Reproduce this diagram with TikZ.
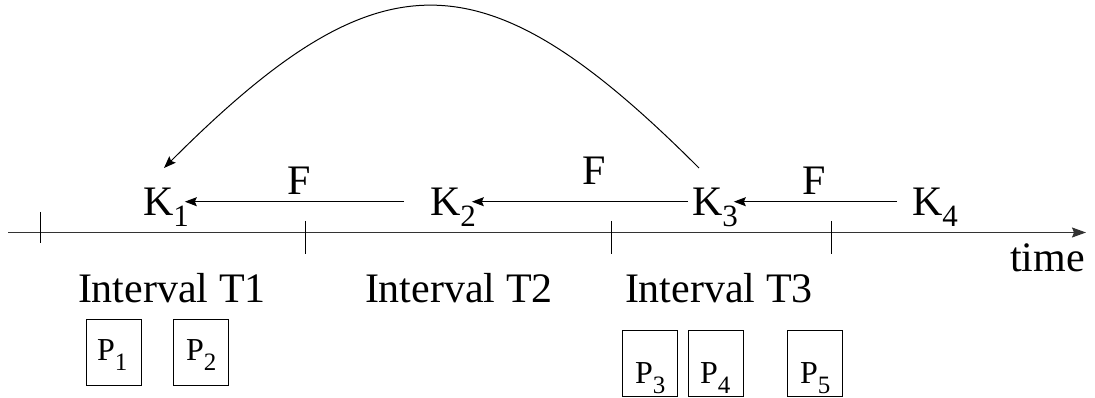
\documentclass[tikz,border=0pt]{standalone}
\usepackage{fontspec}
\setmainfont{Liberation Serif}
\usetikzlibrary{arrows.meta,calc}
\newcommand{\Ksub}[1]{K\raisebox{-11pt}{\fontsize{31}{31}\selectfont #1}}
\newcommand{\Psub}[1]{P\raisebox{-10pt}{\fontsize{25}{25}\selectfont #1}}
\tikzset{
  lbl/.style={anchor=base west,inner sep=0pt,outer sep=0pt,font=\fontsize{42}{50}\selectfont},
  plbl/.style={anchor=base west,inner sep=0pt,outer sep=0pt,font=\fontsize{32}{38}\selectfont},
  pbox/.style={draw,line width=1pt,minimum width=55pt,minimum height=66pt,inner sep=0pt},
  tickmark/.style={line width=1pt},
  axis/.style={line width=1.4pt,draw=black!80,-{Stealth[length=14pt,width=10pt,inset=2pt]}},
  farrow/.style={line width=1pt,-{Stealth[length=12pt,width=9pt,inset=2pt]}}
}
\begin{document}
\begin{tikzpicture}[x=1pt,y=-1pt]
\useasboundingbox (0,0) rectangle (1095,398);
% axis
\coordinate (a0) at (8,232.5);
\coordinate (a1) at (1086,232.5);
\draw[axis] (a0) -- (a1);
\coordinate (t0a) at (40,212); \coordinate (t0b) at (40,243);
\coordinate (t1a) at (305,221); \coordinate (t1b) at (305,254);
\coordinate (t2a) at (611,221); \coordinate (t2b) at (611,254);
\coordinate (t3a) at (831,221); \coordinate (t3b) at (831,254);
\draw[tickmark] (t0a) -- (t0b);
\draw[tickmark] (t1a) -- (t1b);
\draw[tickmark] (t2a) -- (t2b);
\draw[tickmark] (t3a) -- (t3b);
\node[lbl] (time) at (1010,271.5) {time};
% K labels
\node[lbl] (K1) at (143,215) {\Ksub{1}};
\node[lbl] (K2) at (430,215) {\Ksub{2}};
\node[lbl] (K3) at (692,215) {\Ksub{3}};
\node[lbl] (K4) at (912,215) {\Ksub{4}};
% F labels
\node[lbl] (F1) at (287,195) {F};
\node[lbl] (F2) at (582,185) {F};
\node[lbl] (F3) at (802,195) {F};
% F arrows
\draw[farrow] ($(K2.base west)+(-26,-13.3)$) -- ($(K1.base east)+(-4,-13.3)$);
\draw[farrow] ($(K3.base west)+(-4,-13.3)$) -- ($(K2.base east)+(-4,-13.3)$);
\draw[farrow] ($(K4.base west)+(-15,-13.3)$) -- ($(K3.base east)+(-4,-13.3)$);
% big curve
\coordinate (cs) at ($(K3.base west)+(7,-47)$);
\coordinate (ce) at ($(K1.base west)+(21,-47)$);
\draw[farrow] (cs) .. controls (483,-48) and (380,-48) .. (ce);
% interval labels
\node[lbl] (I1) at (78,302) {Interval T1};
\node[lbl] (I2) at (365,302) {Interval T2};
\node[lbl] (I3) at (625,302) {Interval T3};
% P boxes
\node[pbox] (B1) at (113.5,352) {};
\node[pbox] (B2) at (201,352) {};
\node[pbox] (B3) at (649.5,363.5) {};
\node[pbox] (B4) at (715.5,363.5) {};
\node[pbox] (B5) at (814.5,363.5) {};
\node[plbl] (P1) at (97,360) {\Psub{1}};
\node[plbl] (P2) at (186,360) {\Psub{2}};
\node[plbl] (P3) at (635,383) {\Psub{3}};
\node[plbl] (P4) at (700,383) {\Psub{4}};
\node[plbl] (P5) at (800,383) {\Psub{5}};
\end{tikzpicture}
\end{document}
